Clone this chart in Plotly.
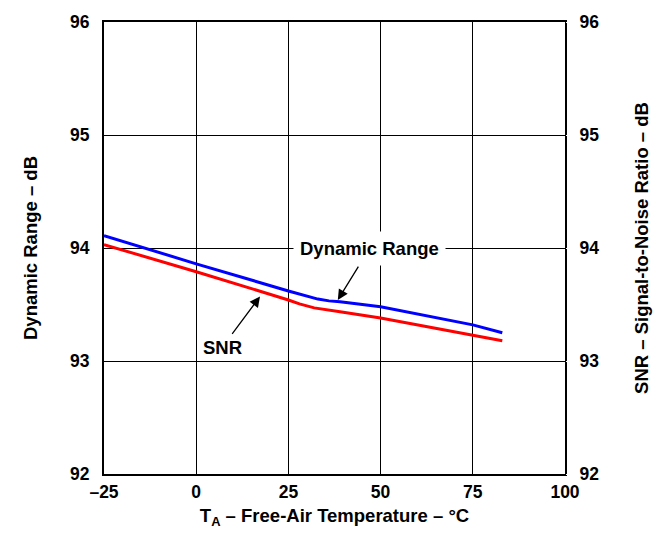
import plotly.graph_objects as go

temp = [-25, 0, 25, 30, 33, 36, 39, 50, 75, 83]
dyn_range = [94.11, 93.86, 93.62, 93.575, 93.548, 93.532, 93.525, 93.48, 93.32, 93.25]
temp_snr = [-25, 0, 25, 28, 32, 35.4, 39, 50, 75, 83]
snr = [94.03, 93.79, 93.54, 93.505, 93.47, 93.45, 93.435, 93.38, 93.23, 93.18]

x_ticks = [-25, 0, 25, 50, 75, 100]
x_ticktext = ["<b>–25</b>", "<b>0</b>", "<b>25</b>", "<b>50</b>", "<b>75</b>", "<b>100</b>"]
y_ticks = [92, 93, 94, 95, 96]
y_ticktext = ["<b>92</b>", "<b>93</b>", "<b>94</b>", "<b>95</b>", "<b>96</b>"]

FONT = "Liberation Sans, Arial, sans-serif"

fig = go.Figure()
fig.add_trace(go.Scatter(x=temp, y=dyn_range, mode="lines", line=dict(color="#0000ff", width=3), showlegend=False))
fig.add_trace(go.Scatter(x=temp_snr, y=snr, mode="lines", line=dict(color="#ff0000", width=3), showlegend=False))
fig.add_trace(go.Scatter(x=[None], y=[None], yaxis="y2", showlegend=False))

fig.update_layout(
    width=661, height=535,
    margin=dict(l=104, r=96, t=16, b=60),
    paper_bgcolor="white", plot_bgcolor="white",
    font=dict(family=FONT, size=17, color="black"),
    xaxis=dict(range=[-25, 100], tickvals=x_ticks, ticktext=x_ticktext,
               showgrid=True, gridcolor="black", gridwidth=1,
               showline=True, linecolor="black", linewidth=2, mirror=True,
               ticks="outside", ticklen=1, tickcolor="white", zeroline=False,
               tickfont=dict(family=FONT, size=17.5),
               title=dict(text="<b>T<sub>A</sub> – Free-Air Temperature – °C</b>",
                          font=dict(family=FONT, size=18.5), standoff=8)),
    yaxis=dict(range=[92, 96], tickvals=y_ticks, ticktext=y_ticktext,
               showgrid=True, gridcolor="black", gridwidth=1,
               showline=True, linecolor="black", linewidth=2, mirror=True,
               ticks="outside", ticklen=9, tickcolor="white", zeroline=False,
               tickfont=dict(family=FONT, size=17.5),
               title=dict(text="<b>Dynamic Range – dB</b>",
                          font=dict(family=FONT, size=18.5), standoff=28)),
    yaxis2=dict(range=[92, 96], tickvals=y_ticks, ticktext=y_ticktext,
                overlaying="y", side="right",
                showgrid=False, ticks="outside", ticklen=10, tickcolor="white",
                zeroline=False, showline=False,
                tickfont=dict(family=FONT, size=17.5),
                title=dict(text="<b>SNR – Signal-to-Noise Ratio – dB</b>",
                           font=dict(family=FONT, size=18.5), standoff=36)),
    annotations=[
        dict(x=38.4, y=93.54, ax=47.1, ay=94.0, axref="x", ayref="y", xref="x", yref="y",
             text="<b>Dynamic Range</b>", bgcolor="white", borderpad=6,
             font=dict(family=FONT, size=18.5),
             showarrow=True, arrowhead=2, arrowsize=1.6, arrowwidth=1.3, arrowcolor="black",
             startstandoff=2),
        dict(x=17.3, y=93.57, ax=7, ay=93.12, axref="x", ayref="y", xref="x", yref="y",
             text="<b>SNR</b>", font=dict(family=FONT, size=18.5),
             showarrow=True, arrowhead=2, arrowsize=1.6, arrowwidth=1.3, arrowcolor="black",
             startstandoff=2),
    ],
)

fig.write_html("out.html")
